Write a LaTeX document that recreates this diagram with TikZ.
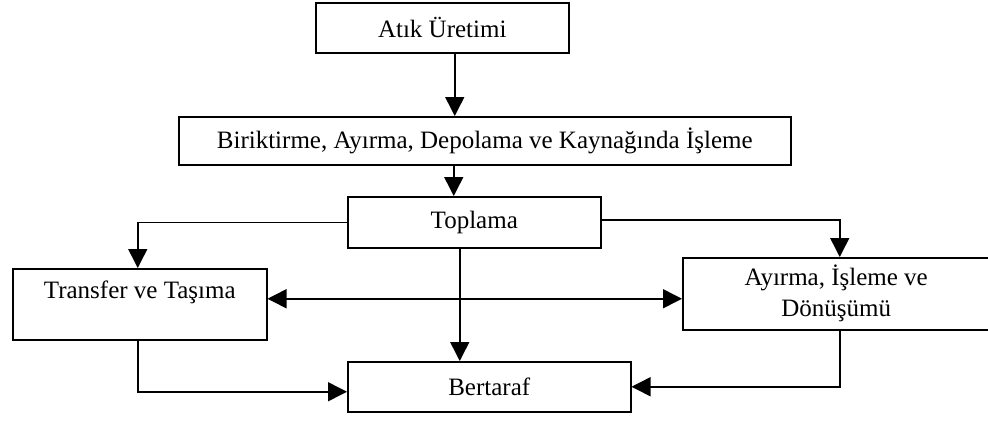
\documentclass[tikz,border=0pt]{standalone}
\usepackage{fontspec}
\setmainfont{Liberation Serif}
\usetikzlibrary{arrows.meta}
\tikzset{
  box/.style={draw, line width=1.5pt, inner sep=0pt, anchor=north west,
    font=\fontsize{25}{31}\selectfont},
  arr/.style={line width=1.5pt, -{Triangle[width=19pt,length=19pt]}},
  arrboth/.style={line width=1.5pt, {Triangle[width=19pt,length=19pt]}-{Triangle[width=19pt,length=19pt]}}
}
\begin{document}
\begin{tikzpicture}[x=1pt,y=-1pt]
\useasboundingbox (0,0) rectangle (988,421);
\node[box, minimum width=253pt, minimum height=50pt] (at) at (315,2) {Atık Üretimi};
\node[box, minimum width=612pt, minimum height=48pt] (bi) at (178,116) {Biriktirme, Ayırma, Depolama ve Kaynağında İşleme};
\node[box, minimum width=253pt, minimum height=51pt] (to) at (347,196) {Toplama};
\node[box, minimum width=254pt, minimum height=71pt, text height=30pt, text depth=41pt] (tr) at (12,268) {Transfer ve Taşıma};
\node[box, minimum width=307pt, minimum height=72pt, align=center] (ay) at (682,257) {Ayırma, İşleme ve\\Dönüşümü};
\node[box, minimum width=283pt, minimum height=50pt] (bt) at (347,361) {Bertaraf};

\draw[arr] ([xshift=12.5pt]at.south) -- ([xshift=12.5pt]at.south |- bi.north);
\draw[arr] ([xshift=-31pt]bi.south) -- ([xshift=-31pt]bi.south |- to.north);
\draw[arr] (to.west) -| ([xshift=-2pt]tr.north);
\draw[arr] ([yshift=2.5pt]to.east) -| ([xshift=3.5pt]ay.north);
\draw[arr] ([xshift=-14.5pt]to.south) -- ([xshift=-14.5pt]to.south |- bt.north);
\draw[arrboth] ([yshift=5.5pt]tr.east) -- ([yshift=5.5pt]tr.east -| ay.west);
\draw[arr] ([xshift=-2pt]tr.south) |- ([yshift=-5pt]bt.west);
\draw[arr] ([xshift=3.5pt]ay.south) |- (bt.east);
\end{tikzpicture}
\end{document}
